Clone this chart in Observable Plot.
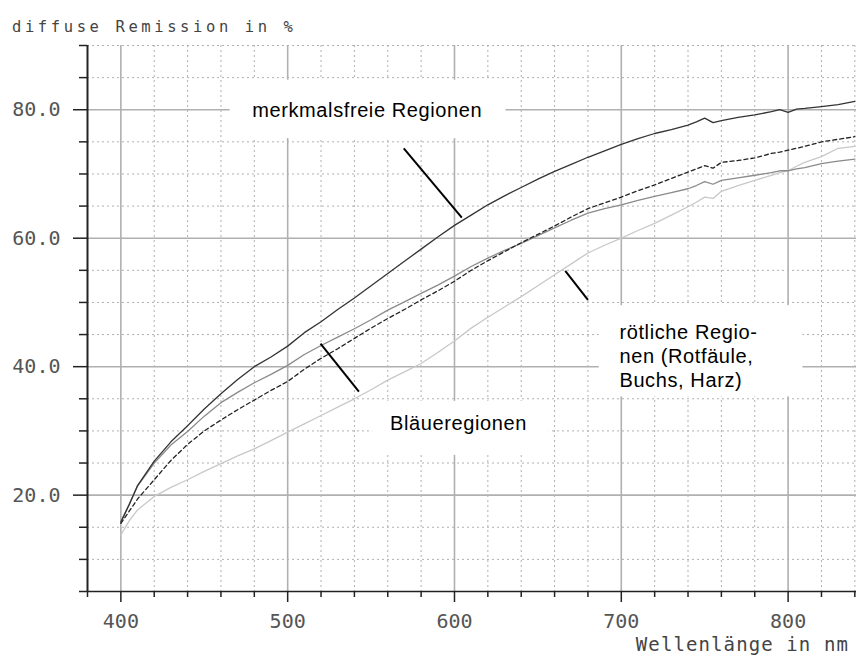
<!DOCTYPE html>
<html><head><meta charset="utf-8">
<script src="https://cdn.jsdelivr.net/npm/d3@7"></script>
<script src="https://cdn.jsdelivr.net/npm/@observablehq/plot@0.6"></script>
<style>html,body{margin:0;padding:0;background:#fff;} #chart svg{display:block;}</style>
</head><body><div id="chart"></div>
<script>
// wavelengths (nm)
const wavelengths = [400,405,410,420,430,440,450,460,470,480,490,500,510,520,530,540,550,560,570,580,590,600,610,620,630,640,650,660,670,680,690,700,710,720,730,740,745,750,755,760,770,780,790,795,800,805,810,820,830,840];
// merkmalsfreie Regionen (dark solid)
const merkmalsfrei = [15.8,18.5,21.5,25.3,28.3,30.8,33.4,35.8,38.0,40.0,41.5,43.2,45.3,47.0,48.9,50.7,52.6,54.5,56.4,58.3,60.2,62.0,63.6,65.2,66.6,67.9,69.2,70.4,71.5,72.6,73.6,74.6,75.5,76.3,76.9,77.6,78.1,78.7,78.0,78.3,78.8,79.2,79.7,80.0,79.6,80.1,80.2,80.5,80.8,81.3];
// grey solid curve
const grauKurve = [15.9,18.6,21.4,25.0,27.8,29.9,32.3,34.4,36.0,37.5,38.8,40.2,41.9,43.3,44.6,45.9,47.3,48.8,50.1,51.4,52.7,54.1,55.6,56.9,58.1,59.2,60.4,61.6,62.8,63.9,64.6,65.2,65.9,66.5,67.1,67.7,68.2,68.8,68.4,69.0,69.4,69.8,70.2,70.5,70.5,70.8,71.0,71.6,72.0,72.3];
// dashed curve
const gestrichelt = [15.6,17.5,19.4,22.4,25.4,27.9,30.0,31.7,33.3,34.8,36.3,37.7,39.6,41.3,42.8,44.4,46.0,47.5,48.9,50.4,51.8,53.3,55.0,56.5,57.9,59.3,60.6,61.9,63.3,64.6,65.5,66.4,67.4,68.3,69.3,70.3,70.8,71.3,70.9,71.8,72.1,72.5,73.2,73.4,73.7,74.0,74.3,75.0,75.4,75.8];
// light grey curve
const hellKurve = [13.8,16.0,17.7,19.8,21.2,22.4,23.7,24.9,26.1,27.2,28.5,29.8,31.1,32.4,33.7,35.0,36.4,37.9,39.2,40.5,42.2,44.0,46.0,47.7,49.3,50.9,52.6,54.3,56.0,57.7,58.9,60.0,61.2,62.3,63.6,64.9,65.6,66.4,66.2,67.3,68.2,69.0,69.8,70.2,70.5,71.2,71.8,72.7,74.0,74.3];

const xMajorTicks = [400,500,600,700,800];
const xMinorTicks = [380,420,440,460,480,520,540,560,580,620,640,660,680,720,740,760,780,820,840];
const yMajorTicks = [20,40,60,80];
const yMinorTicks = [5,10,15,25,30,35,45,50,55,65,70,75,85,90];

const labelTexts = ["merkmalsfreie Regionen", "Bläueregionen", "rötliche Regio-\nnen (Rotfäule,\nBuchs, Harz)"];
const labelX = [547.7, 602.4, 698.9];
const labelY = [79.8, 31.1, 46.9];
const labelAnchor = ["middle", "middle", "start"];

const boxX1 = [465.5, 686.8, 551.0];
const boxX2 = [630.9, 808.9, 656.8];
const boxY1 = [75.5, 35.3, 26.2];
const boxY2 = [84.6, 49.5, 34.6];

const leaderX1 = [569.6, 519.7, 666.4];
const leaderY1 = [74.0, 43.6, 54.9];
const leaderX2 = [604.4, 542.7, 680.0];
const leaderY2 = [63.2, 36.1, 50.4];

const table = (vals) => wavelengths.map((w, i) => ({w, v: vals[i]}));
const labels = labelTexts.map((t, i) => ({t, x: labelX[i], y: labelY[i], a: labelAnchor[i]}));
const boxes = boxX1.map((x1, i) => ({x1, x2: boxX2[i], y1: boxY1[i], y2: boxY2[i]}));
const leaders = leaderX1.map((x1, i) => ({x1, y1: leaderY1[i], x2: leaderX2[i], y2: leaderY2[i]}));

const mono = "DejaVu Sans Mono, monospace";
const gridGrey = "#b0b0b0";

const chart = Plot.plot({
  width: 856, height: 655,
  marginLeft: 87, marginRight: 0, marginTop: 45, marginBottom: 64,
  style: {background: "#fff", fontFamily: mono},
  x: {domain: [380, 841], axis: null},
  y: {domain: [5, 90], axis: null},
  marks: [
    Plot.ruleX(xMinorTicks, {stroke: gridGrey, strokeWidth: 1, strokeDasharray: "2,3"}),
    Plot.ruleY(yMinorTicks, {stroke: gridGrey, strokeWidth: 1, strokeDasharray: "2,3"}),
    Plot.ruleX(xMajorTicks, {stroke: gridGrey, strokeWidth: 1.6}),
    Plot.ruleY(yMajorTicks, {stroke: gridGrey, strokeWidth: 1.6}),
    Plot.rect(boxes, {x1: "x1", x2: "x2", y1: "y1", y2: "y2", fill: "white"}),
    Plot.line(table(hellKurve), {x: "w", y: "v", stroke: "#c8c8c8", strokeWidth: 1.3}),
    Plot.line(table(grauKurve), {x: "w", y: "v", stroke: "#8a8a8a", strokeWidth: 1.3}),
    Plot.line(table(gestrichelt), {x: "w", y: "v", stroke: "#222", strokeWidth: 1.3, strokeDasharray: "4,3"}),
    Plot.line(table(merkmalsfrei), {x: "w", y: "v", stroke: "#333", strokeWidth: 1.3}),
    Plot.link(leaders, {x1: "x1", y1: "y1", x2: "x2", y2: "y2", stroke: "#000", strokeWidth: 2}),
    Plot.text(labels.filter(d => d.a === "middle"), {x: "x", y: "y", text: "t", textAnchor: "middle", lineAnchor: "middle", fontFamily: "Liberation Sans, Arial, sans-serif", fontSize: 20, fill: "#000"}),
    Plot.text(labels.filter(d => d.a === "start"), {x: "x", y: "y", text: "t", textAnchor: "start", lineAnchor: "top", lineHeight: 1.2, fontFamily: "Liberation Sans, Arial, sans-serif", fontSize: 20, fill: "#000"}),
    Plot.ruleX([380], {stroke: "#222", strokeWidth: 2}),
    Plot.ruleY([5], {stroke: "#222", strokeWidth: 1.5}),
    Plot.axisY({ticks: yMinorTicks, tickSize: 8, tickFormat: () => "", label: null, stroke: "#222", strokeWidth: 1.5}),
    Plot.axisY({ticks: yMajorTicks, tickSize: 14, tickPadding: 13, tickFormat: d => d.toFixed(1), label: null, stroke: "#222", strokeWidth: 1.5, fill: "#555", fontSize: 20, fontFamily: mono}),
    Plot.axisX({ticks: xMinorTicks, tickSize: 6, tickFormat: () => "", label: null, stroke: "#222", strokeWidth: 1.5}),
    Plot.axisX({ticks: xMajorTicks, tickSize: 11, tickPadding: 11, tickFormat: d => String(d), label: null, stroke: "#222", strokeWidth: 1.5, fill: "#555", fontSize: 20, fontFamily: mono})
  ]
});

document.getElementById("chart").appendChild(chart);
const svg = d3.select(chart);
svg.selectAll('g[aria-label="text"] text').style("letter-spacing", "0.6px");
svg.selectAll('g[aria-label="y-axis tick label"] text, g[aria-label="x-axis tick label"] text')
  .attr("fill", "#555").style("font-family", mono).style("font-size", "20px");
svg.append("text")
  .attr("x", 12).attr("y", 31.5)
  .attr("text-anchor", "start")
  .style("font-family", mono).style("font-size", "15.5px").style("letter-spacing", "3.6px")
  .attr("fill", "#444")
  .text("diffuse Remission in %");
svg.append("text")
  .attr("x", 849).attr("y", 651)
  .attr("text-anchor", "end")
  .style("font-family", mono).style("font-size", "19px").style("letter-spacing", "1.1px")
  .attr("fill", "#444")
  .text("Wellenlänge in nm");
</script>
</body></html>
